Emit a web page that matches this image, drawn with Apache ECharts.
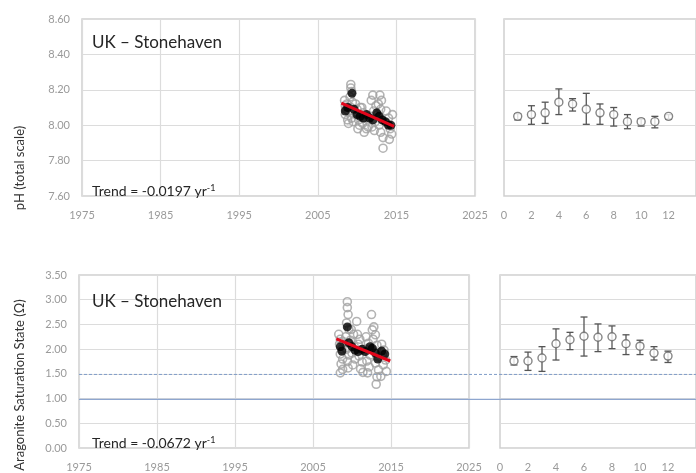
<!DOCTYPE html>
<html><head><meta charset="utf-8">
<script src="https://cdn.jsdelivr.net/npm/echarts@6/dist/echarts.min.js"></script>
<style>html,body{margin:0;padding:0;background:#fff}#c{width:696px;height:473px}</style>
</head><body><div id="c"></div>
<script>
// ---------- DATA ----------
const BASE_YEAR = 1975;
const yearTicks = [1975, 1985, 1995, 2005, 2015, 2025];
const monthTicks = [0, 2, 4, 6, 8, 10, 12];

// pH individual samples [year, pH]
const phSamples = [
  [2008.4,8.14],[2008.5,8.11],[2008.6,8.09],[2008.5,8.06],[2008.8,8.03],[2008.9,8.01],[2008.7,8.12],[2008.9,8.08],
  [2009.2,8.23],[2009.2,8.21],[2009.3,8.19],[2009.1,8.16],[2009.4,8.13],[2009.2,8.10],[2009.5,8.07],[2009.3,8.04],[2009.5,8.02],
  [2009.8,8.12],[2010.0,8.09],[2009.9,8.06],[2010.2,8.03],[2010.3,8.00],[2010.1,7.98],[2010.4,8.10],
  [2010.6,8.10],[2010.8,8.07],[2011.0,8.04],[2010.7,8.01],[2011.2,7.98],[2010.9,7.96],[2011.4,7.99],[2011.3,8.05],
  [2012.0,8.17],[2011.8,8.14],[2012.1,8.08],[2011.7,8.05],[2012.3,8.02],[2011.9,7.99],[2012.2,7.97],[2012.4,8.11],
  [2012.9,8.17],[2012.7,8.12],[2013.0,8.09],[2012.6,8.06],[2013.2,8.03],[2012.8,8.00],[2013.0,7.96],[2013.3,7.93],[2013.3,7.87],[2013.1,8.14],
  [2013.7,8.08],[2014.0,8.04],[2013.8,8.01],[2014.2,7.98],[2014.4,7.95],[2014.1,7.92],[2014.5,8.06]
];
// pH means [year, pH]
const phMeans = [
  [2008.5,8.08],[2008.8,8.10],[2009.35,8.18],[2009.6,8.09],[2010.0,8.06],[2010.4,8.05],[2010.8,8.04],[2011.2,8.06],
  [2011.6,8.04],[2012.0,8.03],[2012.5,8.07],[2012.8,8.05],[2013.2,8.03],[2013.6,8.02],[2014.0,8.00],[2014.3,8.00]
];
const phTrend = [[2008.0,8.125],[2014.7,7.993]];

// Aragonite saturation samples [year, Omega]
const arSamples = [
  [2008.3,2.30],[2008.5,2.20],[2008.4,2.10],[2008.7,2.00],[2008.5,1.90],[2008.8,1.80],[2008.6,1.70],[2008.8,1.59],[2008.5,1.52],[2008.9,2.15],
  [2009.4,2.96],[2009.4,2.84],[2009.5,2.70],[2009.3,2.53],[2009.6,2.40],[2009.2,2.25],[2009.5,2.12],[2009.3,2.00],[2009.6,1.88],[2009.4,1.75],[2009.5,1.62],
  [2010.6,2.56],[2009.9,2.40],[2010.2,2.30],[2009.8,2.18],[2010.3,2.05],[2010.0,1.92],[2010.4,1.80],[2010.1,1.68],
  [2010.7,2.30],[2011.0,2.20],[2010.8,2.10],[2011.2,1.98],[2010.9,1.86],[2011.3,1.74],[2011.1,1.60],[2011.4,1.53],
  [2012.5,2.70],[2012.6,2.39],[2011.8,2.25],[2012.1,2.12],[2011.7,2.00],[2012.3,1.88],[2011.9,1.76],[2012.2,1.64],[2012.0,1.52],
  [2013.0,2.29],[2012.7,2.20],[2013.2,2.08],[2012.9,1.96],[2013.3,1.84],[2013.0,1.72],[2013.4,1.58],[2013.2,1.44],[2013.1,1.29],[2012.8,2.45],
  [2013.8,2.10],[2014.1,1.98],[2013.9,1.88],[2014.3,1.78],[2014.0,1.68],[2014.4,1.55],[2013.7,1.45]
];
const arMeans = [
  [2008.5,2.05],[2008.7,1.96],[2009.4,2.45],[2009.6,2.13],[2010.0,2.05],[2010.4,1.98],[2010.8,1.95],[2011.3,2.00],
  [2011.7,1.95],[2012.3,2.05],[2012.6,2.02],[2013.0,1.92],[2013.3,1.80],[2013.8,1.96],[2014.2,1.90]
];
const arTrend = [[2008.0,2.21],[2014.9,1.76]];

// Monthly climatology
const months = [1,2,3,4,5,6,7,8,9,10,11,12];
const phMonthMean = [8.05,8.06,8.07,8.13,8.12,8.09,8.07,8.06,8.02,8.02,8.02,8.05];
const phMonthLow  = [8.03,8.005,8.01,8.06,8.08,8.005,8.005,7.995,7.98,7.995,7.985,8.035];
const phMonthHigh = [8.065,8.11,8.13,8.205,8.15,8.18,8.12,8.10,8.06,8.035,8.05,8.06];
const arMonthMean = [1.76,1.76,1.82,2.11,2.19,2.26,2.24,2.25,2.11,2.06,1.92,1.86];
const arMonthLow  = [1.68,1.57,1.55,1.78,1.99,1.86,1.95,2.01,1.89,1.89,1.78,1.73];
const arMonthHigh = [1.85,1.94,2.05,2.41,2.34,2.65,2.51,2.47,2.29,2.18,2.05,1.96];

// Reference lines (Omega)
const refDashed = 1.5;
const refSolid = 1.0;

const siteName = 'UK – Stonehaven';
const phTrendText = 'Trend = -0.0197 yr';
const arTrendText = 'Trend = -0.0672 yr';
const phAxisName = 'pH (total scale)';
const arAxisName = 'Aragonite Saturation State (Ω)';

// ---------- CHART ----------
const FONT = 'Lato, "Open Sans", sans-serif';
const shift = arr => arr.map(p => [p[0] - BASE_YEAR, p[1]]);
const gridCol = '#dcdcdc';
const labCol = '#9a9a9a';

function yearAxis(g){
  return {gridIndex:g, type:'value', min:yearTicks[0]-BASE_YEAR, max:yearTicks[yearTicks.length-1]-BASE_YEAR, interval:10,
    axisLine:{show:false}, axisTick:{show:false},
    axisLabel:{formatter:v=>String(v+BASE_YEAR), color:labCol, fontSize:11, margin:14, fontFamily:FONT},
    splitLine:{show:true, lineStyle:{color:gridCol, width:1.2}}};
}
function monthAxis(g){
  return {gridIndex:g, type:'value', min:monthTicks[0], max:14, interval:2,
    axisLine:{show:false}, axisTick:{show:false},
    axisLabel:{color:labCol, fontSize:11, margin:14, fontFamily:FONT, showMaxLabel:false},
    splitLine:{show:false}};
}
function valAxis(g, min, max, interval, showLabels){
  return {gridIndex:g, type:'value', min, max, interval,
    axisLine:{show:false}, axisTick:{show:false},
    axisLabel:{show:showLabels, formatter:v=>v.toFixed(2), color:labCol, fontSize:11, margin:12, fontFamily:FONT},
    splitLine:{show:true, lineStyle:{color:gridCol, width:1.2}}};
}
function errRender(params, api){
  const x = api.value(0), lo = api.value(1), hi = api.value(2);
  const t = api.coord([x, hi]), b = api.coord([x, lo]);
  const w = 3.5, st = {stroke:'#555', lineWidth:1.3};
  return {type:'group', children:[
    {type:'line', shape:{x1:t[0],y1:t[1],x2:b[0],y2:b[1]}, style:st},
    {type:'line', shape:{x1:t[0]-w,y1:t[1],x2:t[0]+w,y2:t[1]}, style:st},
    {type:'line', shape:{x1:b[0]-w,y1:b[1],x2:b[0]+w,y2:b[1]}, style:st}
  ]};
}
const openStyle = {color:'rgba(255,255,255,0)', borderColor:'#a0a0a0', borderWidth:1.6};
const meanStyle = {color:'#000'};
const monthStyle = {color:'#fff', borderColor:'#666', borderWidth:1.4};
const titleStyle = {fontSize:17, fontWeight:'normal', color:'#262626', fontFamily:FONT};
const trendStyle = {fontSize:14, fontWeight:'normal', color:'#262626', fontFamily:FONT,
  rich:{s:{fontSize:9, verticalAlign:'top', lineHeight:14, color:'#262626', fontFamily:FONT}}};

const chart = echarts.init(document.getElementById('c'), null, {renderer:'canvas'});
chart.setOption({
  animation:false,
  backgroundColor:'#fff',
  textStyle:{fontFamily:FONT},
  grid:[
    {left:82, top:19, width:393, height:177, show:true, borderColor:'#d0d0d0', borderWidth:1.5},
    {left:504, top:19, width:214, height:177, show:true, borderColor:'#d0d0d0', borderWidth:1.5},
    {left:79, top:275, width:390, height:174, show:true, borderColor:'#d0d0d0', borderWidth:1.5},
    {left:500, top:275, width:213, height:174, show:true, borderColor:'#d0d0d0', borderWidth:1.5},
    {left:79, top:275, width:640, height:174, show:false}
  ],
  xAxis:[yearAxis(0), monthAxis(1), yearAxis(2), monthAxis(3),
    {gridIndex:4, type:'value', min:0, max:1, show:false}],
  yAxis:[valAxis(0,7.6,8.6,0.2,true), valAxis(1,7.6,8.6,0.2,false),
    valAxis(2,0,3.5,0.5,true), valAxis(3,0,3.5,0.5,false),
    {gridIndex:4, type:'value', min:0, max:3.5, show:false}],
  title:[
    {text:siteName, left:87, top:29, textStyle:titleStyle},
    {text:phTrendText+'{s|-1}', left:87, top:179, textStyle:trendStyle},
    {text:siteName, left:87, top:288, textStyle:titleStyle},
    {text:arTrendText+'{s|-1}', left:87, top:431, textStyle:trendStyle}
  ],
  graphic:[
    {type:'text', x:20, y:168, rotation:Math.PI/2, style:{text:phAxisName, fontSize:13, fontFamily:FONT, fill:'#333', align:'center', verticalAlign:'middle'}},
    {type:'text', x:20, y:385, rotation:Math.PI/2, style:{text:arAxisName, fontSize:13, fontFamily:FONT, fill:'#333', align:'center', verticalAlign:'middle'}}
  ],
  series:[
    // reference lines
    {type:'line', xAxisIndex:4, yAxisIndex:4, data:[[0,refDashed],[1,refDashed]], symbol:'none', silent:true, z:1,
      lineStyle:{color:'#7f9cc8', width:1, type:[3,2]}},
    {type:'line', xAxisIndex:4, yAxisIndex:4, data:[[0,refSolid],[1,refSolid]], symbol:'none', silent:true, z:1,
      lineStyle:{color:'#8ea6cf', width:1.3}},
    // pH panel
    {type:'scatter', xAxisIndex:0, yAxisIndex:0, data:shift(phSamples), symbol:'circle', symbolSize:8, itemStyle:openStyle, z:2},
    {type:'scatter', xAxisIndex:0, yAxisIndex:0, data:shift(phMeans), symbol:'circle', symbolSize:9, itemStyle:meanStyle, z:3},
    {type:'line', xAxisIndex:0, yAxisIndex:0, data:shift(phTrend), symbol:'none', z:4, lineStyle:{color:'#e3061b', width:3}},
    // pH monthly
    {type:'custom', xAxisIndex:1, yAxisIndex:1, renderItem:errRender, encode:{x:0, y:[1,2]},
      data:months.map((m,i)=>[m, phMonthLow[i], phMonthHigh[i]]), z:2},
    {type:'scatter', xAxisIndex:1, yAxisIndex:1, data:months.map((m,i)=>[m, phMonthMean[i]]), symbol:'circle', symbolSize:8, itemStyle:monthStyle, z:3},
    // Aragonite panel
    {type:'scatter', xAxisIndex:2, yAxisIndex:2, data:shift(arSamples), symbol:'circle', symbolSize:8, itemStyle:openStyle, z:2},
    {type:'scatter', xAxisIndex:2, yAxisIndex:2, data:shift(arMeans), symbol:'circle', symbolSize:9, itemStyle:meanStyle, z:3},
    {type:'line', xAxisIndex:2, yAxisIndex:2, data:shift(arTrend), symbol:'none', z:4, lineStyle:{color:'#e3061b', width:3}},
    // Aragonite monthly
    {type:'custom', xAxisIndex:3, yAxisIndex:3, renderItem:errRender, encode:{x:0, y:[1,2]},
      data:months.map((m,i)=>[m, arMonthLow[i], arMonthHigh[i]]), z:2},
    {type:'scatter', xAxisIndex:3, yAxisIndex:3, data:months.map((m,i)=>[m, arMonthMean[i]]), symbol:'circle', symbolSize:8, itemStyle:monthStyle, z:3}
  ]
});
</script></body></html>
